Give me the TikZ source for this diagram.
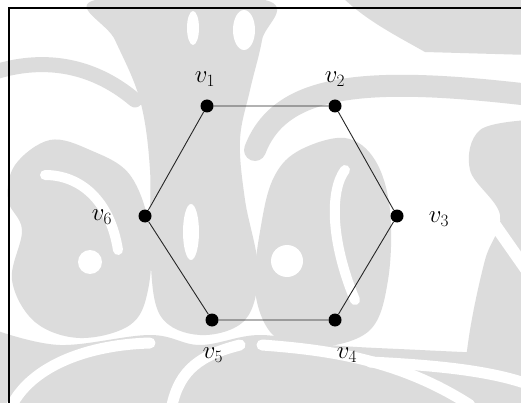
\documentclass[tikz,border=0pt]{standalone}
\usetikzlibrary{calc}
\definecolor{wm}{RGB}{220,220,220}
\tikzset{
  vtx/.style={circle,fill=black,inner sep=0pt,minimum size=13pt},
  lbl/.style={inner sep=0pt,font=\fontsize{27}{31}\selectfont},
  edge/.style={line width=0.9pt,draw=black!85},
  wmband/.style={draw=wm,line cap=round},
  wband/.style={draw=white,line cap=round}
}
\begin{document}
\begin{tikzpicture}[x=1pt,y=-1pt]
\useasboundingbox (0,0) rectangle (521,403);
\fill[white] (0,0) rectangle (521,403);
% watermark approximation
\begin{scope}
\clip (0,0) rectangle (521,403);
% tree
\fill[wm] plot[smooth cycle,tension=0.6] coordinates {(95,0) (265,0) (262,40) (250,90) (240,140) (245,200) (258,270) (245,320) (200,335) (160,315) (150,250) (150,170) (140,100) (115,40)};
\fill[white] (193,28) ellipse (6 and 17);
\fill[white] (244,30) ellipse (11 and 20);
\fill[white] (191,232) ellipse (8 and 28);
% left arc band
\draw[wmband,line width=15] (-5,72) .. controls (40,58) and (90,62) .. (135,100);
% left lobe
\fill[wm] plot[smooth cycle,tension=0.6] coordinates {(15,165) (50,140) (90,150) (130,175) (150,230) (148,290) (130,325) (80,338) (35,322) (12,280) (22,230) (8,200)};
\fill[white] (90,262) circle (12);
\draw[wband,line width=10] (45,175) .. controls (80,175) and (110,200) .. (118,250);
% right lobe
\fill[wm] plot[smooth cycle,tension=0.6] coordinates {(300,150) (345,138) (375,160) (390,210) (388,280) (370,330) (320,347) (275,337) (255,290) (262,220) (275,175)};
\fill[white] (287,261) circle (16);
\draw[wband,line width=10] (345,170) .. controls (330,190) and (330,240) .. (355,300);
% right upper swoosh
\fill[wm] (340,-5) -- (530,-5) -- (530,55) -- (425,52) .. controls (395,35) and (365,20) .. (340,-5);
\draw[wmband,line width=22] (255,150) .. controls (280,85) and (360,75) .. (530,95);
\draw[wband,line width=12] (425,60) .. controls (460,62) and (500,64) .. (530,66);
% right side
\fill[wm] plot[smooth,tension=0.6] coordinates {(530,120) (480,130) (470,170) (500,215) (485,260) (470,330) (460,410)} -- (530,410) -- cycle;
\draw[wband,line width=12] (495,225) -- (530,275);
% bottom
\fill[wm] plot[smooth,tension=0.6] coordinates {(-5,330) (60,345) (150,335) (200,345) (260,335) (330,345) (420,350) (530,355)} -- (530,410) -- (-5,410) -- cycle;
\draw[wband,line width=11] (12,405) .. controls (30,370) and (80,345) .. (150,343);
\draw[wband,line width=11] (172,405) .. controls (180,370) and (200,355) .. (240,345);
\draw[wband,line width=11] (262,345) .. controls (330,350) and (400,360) .. (470,405);
\draw[wband,line width=11] (370,362) .. controls (430,365) and (490,370) .. (530,385);
\end{scope}
% frame
\draw[line width=2pt] (521,8) -- (9,8) -- (9,403);
% vertices
\node[vtx] (n1) at (207,106) {};
\node[vtx] (n2) at (335,106) {};
\node[vtx] (n3) at (397,216) {};
\node[vtx] (n4) at (335,320) {};
\node[vtx] (n5) at (212,320) {};
\node[vtx] (n6) at (145,216) {};
\draw[edge] (n1) -- (n2) -- (n3) -- (n4) -- (n5) -- (n6) -- (n1);
% labels
\node[lbl] (l1) at (205,79) {$v_1$};
\node[lbl] (l2) at (335,79) {$v_2$};
\node[lbl] (l3) at (439,219) {$v_3$};
\node[lbl] (l4) at (347,355) {$v_4$};
\node[lbl] (l5) at (213,355) {$v_5$};
\node[lbl] (l6) at (102,217) {$v_6$};
\end{tikzpicture}
\end{document}
